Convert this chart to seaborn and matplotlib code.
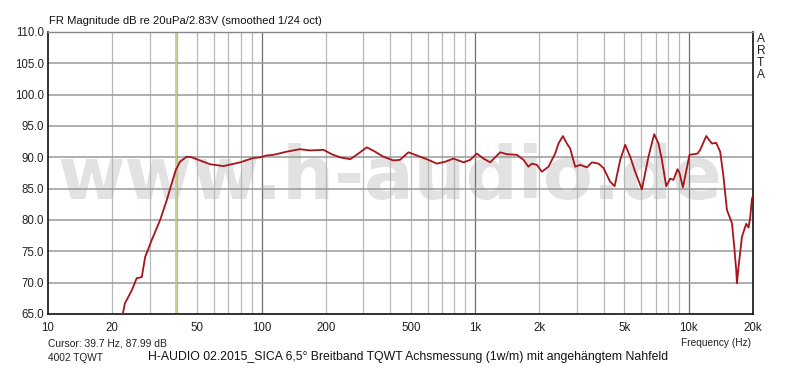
import numpy as np
import pandas as pd
import matplotlib
matplotlib.use("Agg")
import matplotlib.pyplot as plt
import seaborn as sns

freq_hz = [21.5, 22.4, 22.9, 24.7, 26.0, 27.5, 28.5, 30.6, 33.5, 36.0, 38.0, 39.7, 41.5, 44.6, 47.1,
           51.5, 57.4, 66.2, 79.3, 91.5, 98.4, 105.7, 113.6, 131, 151, 169, 195, 213, 233, 260,
           284, 311, 340, 372, 414, 445, 487, 533, 594, 662, 724, 792, 882, 948, 1019, 1094,
           1176, 1310, 1408, 1568, 1684, 1777, 1843, 1945, 2053, 2205, 2369, 2456, 2575, 2689,
           2786, 2940, 3103, 3336, 3521, 3781, 3990, 4289, 4500, 4779, 5044, 5321, 5616, 6036,
           6481, 6892, 7220, 7489, 7845, 8190, 8488, 8862, 9056, 9394, 10086, 10530, 11000,
           11320, 12080, 12840, 13450, 14040, 14550, 15100, 15940, 16340, 16690, 16820, 17110,
           17750, 18590, 19060, 19420, 19770, 20000]
level_db = [63.5, 65.0, 66.7, 68.8, 70.7, 70.9, 74.1, 76.8, 80.0, 83.2, 85.9, 88.0, 89.3, 90.1, 90.0,
            89.5, 88.9, 88.6, 89.2, 89.9, 90.0, 90.3, 90.4, 90.9, 91.3, 91.1, 91.2, 90.5, 90.0, 89.7,
            90.6, 91.6, 90.9, 90.1, 89.5, 89.6, 90.8, 90.3, 89.7, 89.0, 89.3, 89.8, 89.2, 89.6, 90.6,
            89.8, 89.2, 90.8, 90.5, 90.4, 89.6, 88.5, 89.0, 88.8, 87.7, 88.5, 90.6, 92.2, 93.4, 92.2,
            91.4, 88.5, 88.8, 88.4, 89.2, 89.0, 88.3, 86.1, 85.4, 89.6, 92.0, 90.1, 87.7, 84.9,
            90.1, 93.7, 92.2, 89.6, 85.4, 86.6, 86.4, 88.1, 87.5, 85.2, 90.4, 90.5, 90.6,
            91.2, 93.4, 92.2, 92.3, 90.9, 86.9, 81.6, 79.5, 75.7, 72.0, 69.9, 72.5,
            77.3, 79.4, 78.8, 80.5, 83.4, 83.8]

x_ticks = [10, 20, 50, 100, 200, 500, 1000, 2000, 5000, 10000, 20000]
x_labels = ["10", "20", "50", "100", "200", "500", "1k", "2k", "5k", "10k", "20k"]
y_ticks = [65, 70, 75, 80, 85, 90, 95, 100, 105, 110]
cursor_hz = 39.7

sns.set_theme(style="white")
plt.rcParams["font.family"] = ["Liberation Sans", "DejaVu Sans"]

fig = plt.figure(figsize=(8, 3.68), dpi=100)
ax = fig.add_axes([48 / 800, 1 - 314 / 368, 705 / 800, 282 / 368])

df = pd.DataFrame({"Frequency": freq_hz, "dB": level_db})

# watermark
ax.text(390 / 800, 1 - 199 / 368, "www.h-audio.de", transform=fig.transFigure, ha="center",
        va="baseline", fontsize=52.5, fontweight="bold", family="DejaVu Sans",
        color="#e2e2e2", zorder=0)

# grid
minor = [f * d for d in (10, 100, 1000) for f in range(2, 10)] + [20000]
for f in minor:
    ax.axvline(f, color="#b8b8b8", lw=0.9, zorder=1)
for f in (100, 1000, 10000):
    ax.axvline(f, color="#707070", lw=0.9, zorder=1)
for y in y_ticks[1:-1]:
    ax.axhline(y, color="#9a9a9a", lw=1.1, zorder=1)

ax.axvline(cursor_hz, color="#c8c878", lw=1.2, zorder=2)

sns.lineplot(data=df, x="Frequency", y="dB", ax=ax, color="#a8141a", lw=1.3, zorder=3,
             estimator=None, sort=False)

ax.set_xscale("log")
ax.set_xlim(10, 20000)
ax.set_ylim(65, 110)
ax.set_xticks(x_ticks)
ax.set_xticklabels(x_labels)
ax.xaxis.set_minor_locator(matplotlib.ticker.NullLocator())
ax.set_yticks(y_ticks)
ax.set_yticklabels([f"{v:.1f}" for v in y_ticks])
ax.tick_params(axis="both", length=0, labelsize=8.3, colors="#222222")
ax.tick_params(axis="x", pad=6)
ax.tick_params(axis="y", pad=3)
ax.set_xlabel("")
ax.set_ylabel("")
for s in ("left", "bottom", "right"):
    ax.spines[s].set_color("#111111")
    ax.spines[s].set_linewidth(1.2)
ax.spines["top"].set_color("#888888")
ax.spines["top"].set_linewidth(1.0)

fig.text(49 / 800, 1 - 21 / 368, "FR Magnitude dB re 20uPa/2.83V (smoothed 1/24 oct)",
         fontsize=8.1, va="center", ha="left", color="#111111")
for i, ch in enumerate("ARTA"):
    fig.text(757 / 800, 1 - (39 + i * 12) / 368, ch, fontsize=8.6, va="center", ha="left",
             color="#222222")
fig.text(751 / 800, 1 - 343 / 368, "Frequency (Hz)", fontsize=7.3, va="center", ha="right",
         color="#222222")
fig.text(48 / 800, 1 - 343 / 368, "Cursor: 39.7 Hz, 87.99 dB", fontsize=7.4, va="center",
         ha="left", color="#222222")
fig.text(48 / 800, 1 - 358 / 368, "4002 TQWT", fontsize=7.3, va="center", ha="left",
         color="#222222")
fig.text(148 / 800, 1 - 357 / 368,
         "H-AUDIO 02.2015_SICA 6,5° Breitband TQWT Achsmessung (1w/m) mit angehängtem Nahfeld",
         fontsize=8.85, va="center", ha="left", color="#111111")

fig.savefig("out.png", dpi=100, facecolor="white")
